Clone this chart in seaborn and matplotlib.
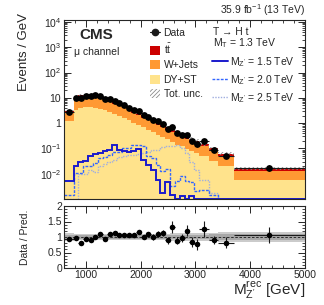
import numpy as np
import matplotlib
matplotlib.use('Agg')
import matplotlib.pyplot as plt
import matplotlib.patches as mpatches
import matplotlib.lines as mlines
from matplotlib.ticker import FixedLocator, FixedFormatter, MultipleLocator, LogLocator, NullFormatter
import seaborn as sns

# binning (GeV)
edges = [600, 776, 864, 952, 1040, 1128, 1216, 1304, 1392, 1480, 1568, 1656, 1744,
         1832, 1920, 2008, 2096, 2184, 2272, 2360, 2448, 2536, 2624, 2712, 2800,
         2888, 2976, 3064, 3250, 3420, 3700, 5000]

# events / GeV
data = [2.75, 9.7, 10.25, 12.35, 11.75, 12.4, 11.9, 9.2, 9.15, 7.8, 6.15, 5.05, 4.1,
        3.4, 2.95, 2.05, 1.82, 1.32, 1.17, 0.96, 0.605, 0.725, 0.39, 0.35, 0.348,
        0.204, 0.152, 0.19, 0.09, 0.051, 0.017]
data_err = [0.12, 0.2, 0.25, 0.26, 0.26, 0.25, 0.22, 0.25, 0.25, 0.21, 0.2, 0.19, 0.18,
            0.16, 0.15, 0.14, 0.12, 0.11, 0.095, 0.085, 0.068, 0.11, 0.053, 0.047, 0.052,
            0.038, 0.034, 0.038, 0.012, 0.011, 0.0043]
ttbar = [0.2, 1.9, 2.5, 2.6, 2.7, 2.5, 2.2, 2.0, 1.7, 1.4, 1.15, 0.95, 0.78,
         0.64, 0.5, 0.41, 0.33, 0.26, 0.21, 0.17, 0.13, 0.11, 0.09, 0.07, 0.058,
         0.048, 0.04, 0.03, 0.02, 0.012, 0.003]
wjets = [1.5, 4.7, 5.9, 6.1, 6.2, 5.9, 5.2, 4.6, 3.9, 3.3, 2.7, 2.25, 1.83,
         1.5, 1.2, 0.96, 0.78, 0.62, 0.5, 0.4, 0.32, 0.26, 0.21, 0.17, 0.136,
         0.113, 0.094, 0.07, 0.047, 0.029, 0.0075]
dyst = [1.2, 3.4, 4.1, 4.3, 4.3, 4.1, 3.6, 3.2, 2.7, 2.3, 1.95, 1.6, 1.29,
        1.06, 0.85, 0.68, 0.54, 0.44, 0.35, 0.28, 0.23, 0.18, 0.14, 0.12, 0.096,
        0.079, 0.066, 0.05, 0.033, 0.021, 0.0055]
# relative background uncertainty
unc_inner = [0.06, 0.05, 0.05, 0.05, 0.05, 0.05, 0.05, 0.05, 0.05, 0.05, 0.05, 0.05, 0.05,
             0.05, 0.05, 0.05, 0.05, 0.06, 0.06, 0.06, 0.06, 0.07, 0.07, 0.07, 0.07,
             0.08, 0.08, 0.08, 0.09, 0.09, 0.1]
unc_outer = [0.12, 0.1, 0.1, 0.1, 0.1, 0.1, 0.1, 0.1, 0.1, 0.1, 0.1, 0.1, 0.1,
             0.1, 0.1, 0.1, 0.1, 0.11, 0.11, 0.11, 0.11, 0.12, 0.12, 0.12, 0.12,
             0.13, 0.13, 0.14, 0.14, 0.15, 0.16]
# signals
sig_1500 = [0.005, 0.02, 0.03, 0.033, 0.05, 0.06, 0.065, 0.08, 0.09, 0.14, 0.085, 0.08, 0.075,
            0.08, 0.095, 0.036, 0.022, 0.014, 0.0056, 0.0018, 0.0047, 0.0015, 0.001, 0.0013, 0.001,
            0.0013, 0.001, 0.001, 0.001, 0.001, 0.001]
sig_2000 = [0.0015, 0.011, 0.011, 0.0195, 0.02, 0.0275, 0.042, 0.045, 0.057, 0.07, 0.07, 0.1, 0.1,
            0.14, 0.14, 0.12, 0.05, 0.043, 0.023, 0.013, 0.015, 0.0033, 0.005, 0.008, 0.005,
            0.0045, 0.002, 0.0023, 0.0015, 0.001, 0.001]
sig_2500 = [0.001, 0.001, 0.01, 0.01, 0.014, 0.012, 0.02, 0.025, 0.03, 0.035, 0.045, 0.05, 0.055,
            0.055, 0.06, 0.065, 0.07, 0.09, 0.09, 0.11, 0.12, 0.13, 0.14, 0.1, 0.065,
            0.028, 0.014, 0.0055, 0.0017, 0.001, 0.001]

sns.set_theme(style='ticks')
plt.rcParams['font.family'] = ['Liberation Sans', 'DejaVu Sans']
plt.rcParams['mathtext.fontset'] = 'custom'
plt.rcParams['mathtext.rm'] = 'Liberation Sans'
plt.rcParams['mathtext.it'] = 'Liberation Sans:italic'
plt.rcParams['mathtext.bf'] = 'Liberation Sans:bold'
plt.rcParams['hatch.linewidth'] = 0.6
plt.rcParams['axes.linewidth'] = 0.8

edges = np.array(edges, float)
centers = 0.5 * (edges[1:] + edges[:-1])
halfw = 0.5 * np.diff(edges)
dy = np.array(dyst)
wj = np.array(wjets)
tt = np.array(ttbar)
total = dy + wj + tt
d = np.array(data)
de = np.array(data_err)
ui = np.array(unc_inner)
uo = np.array(unc_outer)

c_tt, c_wj, c_dy = '#CC0000', '#FF9933', '#FFE38C'
c_s1, c_s2, c_s3 = '#1A1ACC', '#3366FF', '#A0AEE0'

fig = plt.figure(figsize=(3.24, 3.05), dpi=100)
ax = fig.add_axes([64/324, 1-199/305, 241/324, 179/305])
rax = fig.add_axes([64/324, 1-268/305, 241/324, 62/305])

# ---- main panel
ax.set_yscale('log')
ax.stairs(total, edges, baseline=1e-6, fill=True, color=c_tt, lw=0)
ax.stairs(dy + wj, edges, baseline=1e-6, fill=True, color=c_wj, lw=0)
ax.stairs(dy, edges, baseline=1e-6, fill=True, color=c_dy, lw=0)
ax.stairs(total * (1 + uo), edges, baseline=total * (1 - uo), fill=True,
          facecolor='none', edgecolor='#8c8c8c', hatch='////////', lw=0)

ax.stairs(sig_2500, edges, baseline=None, color=c_s3, lw=1.0, ls=(0, (1, 1)))
ax.stairs(sig_2000, edges, baseline=None, color=c_s2, lw=1.0, ls=(0, (2, 1)))
ax.stairs(sig_1500, edges, baseline=None, color=c_s1, lw=1.4)

ax.errorbar(centers, d, yerr=de, xerr=halfw, fmt='none', ecolor='k', elinewidth=0.8, zorder=4)
sns.scatterplot(x=centers, y=d, color='black', s=24, linewidth=0, ax=ax, zorder=5, legend=False)

ax.set_xlim(600, 5000)
ax.set_ylim(1e-3, 1.2e4)
yt = [1e-3, 1e-2, 1e-1, 1, 10, 1e2, 1e3, 1e4]
ax.yaxis.set_major_locator(FixedLocator(yt))
ax.yaxis.set_major_formatter(FixedFormatter(['', r'10$^{-2}$', r'10$^{-1}$', '1', '10',
                                             r'10$^{2}$', r'10$^{3}$', r'10$^{4}$']))
ax.yaxis.set_minor_locator(LogLocator(base=10, subs=np.arange(2, 10), numticks=20))
ax.yaxis.set_minor_formatter(NullFormatter())
ax.xaxis.set_major_locator(MultipleLocator(1000))
ax.xaxis.set_minor_locator(MultipleLocator(200))
ax.tick_params(which='both', direction='in', top=True, right=True, labelbottom=False,
               labelsize=7.5, pad=2)
ax.tick_params(which='major', length=5, width=0.7)
ax.tick_params(which='minor', length=2.5, width=0.6)
ax.set_ylabel('Events / GeV', fontsize=9.5, loc='top')
ax.yaxis.set_label_coords(-0.141, 1.04)

# ---- ratio panel
rax.stairs(1 + uo, edges, baseline=1 - uo, fill=True, color='#CBCBCB', lw=0)
rax.stairs(1 + ui, edges, baseline=1 - ui, fill=True, color='#A8A8A8', lw=0)
rax.axhline(1, ls=(0, (3, 2)), color='k', lw=0.6)
r = d / total
re = de / total
rax.errorbar(centers, r, yerr=re, xerr=halfw, fmt='none', ecolor='k', elinewidth=0.8, zorder=4)
sns.scatterplot(x=centers, y=r, color='black', s=16, linewidth=0, ax=rax, zorder=5, legend=False)
rax.set_xlim(600, 5000)
rax.set_ylim(0, 2)
rax.yaxis.set_major_locator(FixedLocator([0, 0.5, 1, 1.5, 2]))
rax.yaxis.set_major_formatter(FixedFormatter(['0', '0.5', '1', '1.5', '2']))
rax.yaxis.set_minor_locator(MultipleLocator(0.1))
rax.xaxis.set_major_locator(MultipleLocator(1000))
rax.xaxis.set_minor_locator(MultipleLocator(200))
rax.tick_params(which='both', direction='in', top=True, right=True, labelsize=7.5, pad=1.5)
rax.tick_params(which='major', length=5, width=0.7)
rax.tick_params(which='minor', length=2.5, width=0.6)
rax.set_ylabel('Data / Pred.', fontsize=7.5)
rax.yaxis.set_label_coords(-0.141, 0.5)
rax.set_xlabel(r"M$^{\mathregular{rec}}_{\mathregular{Z'}}$ [GeV]", fontsize=11, loc='right')
rax.xaxis.set_label_coords(1.0, -0.19)

# ---- texts
fig.text(305/324, 1-10/305, r'35.9 fb$^{-1}$ (13 TeV)', ha='right', va='center', fontsize=7.5)
fig.text(79/324, 1-35/305, 'CMS', ha='left', va='center', fontsize=11, fontweight='bold')
fig.text(74/324, 1-51.7/305, 'μ channel', ha='left', va='center', fontsize=7.5)
fig.text(213/324, 1-32.3/305, 'T → H t', ha='left', va='center', fontsize=7.5)
fig.text(213/324, 1-43.3/305, r'M$_{\mathregular{T}}$ = 1.3 TeV', ha='left', va='center', fontsize=7.5)

h_left = [
    mlines.Line2D([], [], color='k', marker='o', markersize=4.5, lw=0.8),
    mpatches.Patch(facecolor=c_tt, lw=0),
    mpatches.Patch(facecolor=c_wj, lw=0),
    mpatches.Patch(facecolor=c_dy, lw=0),
    mpatches.Patch(facecolor='white', edgecolor='#8c8c8c', hatch='////////', lw=0),
]
l_left = ['Data', r't$\bar{\mathregular{t}}$', 'W+Jets', 'DY+ST', 'Tot. unc.']
fig.legend(h_left, l_left, loc='upper left', bbox_to_anchor=(150/324, 1-27.5/305),
           frameon=False, fontsize=7.5, handlelength=0.95, handleheight=1.0,
           handletextpad=0.35, labelspacing=0.4, borderpad=0, borderaxespad=0)

h_right = [
    mlines.Line2D([], [], color=c_s1, lw=1.4),
    mlines.Line2D([], [], color=c_s2, lw=1.0, ls=(0, (2, 1))),
    mlines.Line2D([], [], color=c_s3, lw=1.0, ls=(0, (1, 1))),
]
l_right = [r"M$_{\mathregular{Z'}}$ = 1.5 TeV", r"M$_{\mathregular{Z'}}$ = 2.0 TeV",
           r"M$_{\mathregular{Z'}}$ = 2.5 TeV"]
fig.legend(h_right, l_right, loc='upper left', bbox_to_anchor=(212/324, 1-55.5/305),
           frameon=False, fontsize=7.5, handlelength=1.5, handleheight=1.0,
           handletextpad=0.2, labelspacing=0.4, borderpad=0, borderaxespad=0)

fig.savefig('out.png', dpi=100)
